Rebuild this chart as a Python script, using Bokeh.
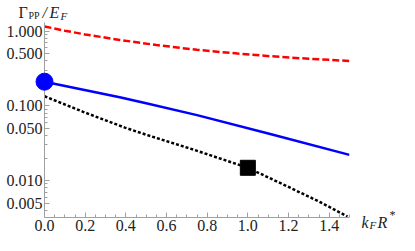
from bokeh.plotting import figure
from bokeh.models import FixedTicker, PrintfTickFormatter, Range1d
from bokeh.core.properties import value
from bokeh.embed import file_html
from bokeh.resources import INLINE

# data
k_red = [0.0, 0.1, 0.2, 0.37, 0.55, 0.75, 0.95, 1.11, 1.3, 1.5]
g_red = [1.15, 1.01, 0.90, 0.76, 0.65, 0.56, 0.50, 0.46, 0.425, 0.398]

k_blue = [0.0, 0.37, 0.5, 0.75, 1.11, 1.5]
g_blue = [0.21, 0.13, 0.108, 0.075, 0.042, 0.022]

k_black = [0.0, 0.19, 0.395, 0.5, 0.734, 1.0, 1.2, 1.346, 1.49]
g_black = [0.134, 0.083, 0.051, 0.041, 0.0258, 0.0148, 0.0082, 0.0053, 0.0033]

k_circle = [0.0]
g_circle = [0.21]
k_square = [1.0]
g_square = [0.0148]

x_ticks = [0.0, 0.2, 0.4, 0.6, 0.8, 1.0, 1.2, 1.4]
x_minor = [i * 0.05 for i in range(31)]
y_ticks = [0.005, 0.01, 0.05, 0.1, 0.5, 1.0]
y_minor = [m * 10.0 ** e for e in (-3, -2, -1, 0) for m in range(1, 10)]

# axis titles, split in pieces: (text, size, style, raised)
y_title = [("Γ", "16px", "normal", 0), ("PP", "10px", "normal", -3),
           ("/", "16px", "italic", 0), ("E", "16px", "italic", 0),
           ("F", "11px", "italic", -3)]
y_title_dx = [-26, -16, -2, 5, 16]
x_title = [("k", "16px", "italic", 0), ("F", "11px", "italic", -3),
           ("R", "16px", "italic", 0), ("*", "12px", "normal", 8)]
x_title_dx = [12, 20, 28, 40]

FONT = "Liberation Serif"
X0, X1 = 0.0, 1.5
Y0, Y1 = 0.0032, 1.3
W, H = 399, 235
BL, BR, BT, BB = 44, 50, 22, 18

p = figure(width=W, height=H, y_axis_type="log",
           x_range=Range1d(X0, X1), y_range=Range1d(Y0, Y1),
           output_backend="svg", toolbar_location=None,
           min_border_left=BL, min_border_right=BR,
           min_border_top=BT, min_border_bottom=BB)
p.outline_line_color = None
p.xgrid.visible = False
p.ygrid.visible = False
p.background_fill_color = "white"
p.border_fill_color = "white"

for ax in (p.xaxis[0], p.yaxis[0]):
    ax.axis_line_color = "#a0a0a0"
    ax.major_tick_line_color = "#a0a0a0"
    ax.minor_tick_line_color = "#a0a0a0"
    ax.major_tick_in = 5
    ax.major_tick_out = 0
    ax.minor_tick_in = 3
    ax.minor_tick_out = 0
    ax.major_label_text_font = FONT
    ax.major_label_text_font_size = "16px"
    ax.major_label_text_color = "#222222"
    ax.major_label_standoff = 2

p.xaxis.ticker = FixedTicker(ticks=x_ticks, minor_ticks=x_minor)
p.xaxis.formatter = PrintfTickFormatter(format="%.1f")
p.yaxis.ticker = FixedTicker(ticks=y_ticks, minor_ticks=y_minor)
p.yaxis.formatter = PrintfTickFormatter(format="%.3f")

p.line(k_red, g_red, line_color="#ff0000", line_width=2.5, line_dash="7 3")
p.line(k_blue, g_blue, line_color="#0000ff", line_width=2.5)
p.line(k_black, g_black, line_color="black", line_width=2.5, line_dash="3 2")
p.scatter(k_circle, g_circle, marker="circle", size=17, fill_color="#0000ff",
          line_color="#0000ff", level="overlay")
p.scatter(k_square, g_square, marker="square", size=15, fill_color="black",
          line_color="black", level="overlay")

PX_X = (W - BL - BR) / (X1 - X0)
PX_DEC = (H - BT - BB) / 2.6087

def put(text, size, style, x, y):
    p.text(x=[x], y=[y], text=[text], text_font=value(FONT),
           text_font_size=value(size), text_font_style=style,
           text_color="#222222", text_baseline="alphabetic",
           text_align="left", level="overlay")

# y title above the top of the y axis
for (t, s, st, r), dx in zip(y_title, y_title_dx):
    put(t, s, st, X0 + dx / PX_X, Y1 * 10 ** ((10 + r) / PX_DEC))
# x title to the right of the x axis
for (t, s, st, r), dx in zip(x_title, x_title_dx):
    put(t, s, st, X1 + dx / PX_X, Y0 * 10 ** ((-5 + r) / PX_DEC))

open("out.html", "w").write(file_html(p, INLINE))
